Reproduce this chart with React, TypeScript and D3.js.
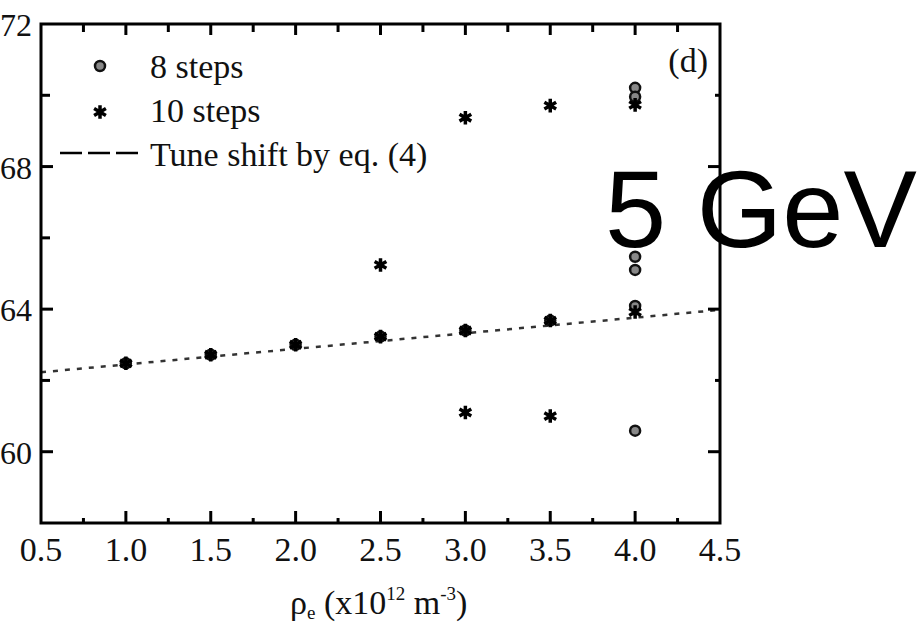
import { useEffect, useRef } from 'react';
import * as d3 from 'd3';

// 8 steps (open circles)
const steps8X = [1.0, 1.5, 2.0, 2.5, 3.0, 3.5, 4.0, 4.0, 4.0, 4.0, 4.0, 4.0];
const steps8Y = [0.6248, 0.6272, 0.630, 0.6323, 0.634, 0.6368, 0.6409, 0.6059, 0.6547, 0.651, 0.7021, 0.6996];

// 10 steps (asterisks)
const steps10X = [1.0, 1.5, 2.0, 2.5, 2.5, 3.0, 3.0, 3.0, 3.5, 3.5, 3.5, 4.0, 4.0];
const steps10Y = [0.6248, 0.6272, 0.630, 0.6323, 0.6524, 0.634, 0.611, 0.6937, 0.6368, 0.610, 0.6971, 0.6392, 0.6973];

// tune shift by eq. (4)
const fitX = [0.5, 4.5];
const fitY = [0.6223, 0.6398];

const xTicks = [0.5, 1.0, 1.5, 2.0, 2.5, 3.0, 3.5, 4.0, 4.5];
const yTicks = [0.60, 0.64, 0.68, 0.72];
// the left edge of the page cuts the "0." off these, only the digits show
const yTickLabels = ['60', '64', '68', '72'];
const legendLabels = ['8 steps', '10 steps', 'Tune shift by eq. (4)'];

function App() {
  const svgRef = useRef(null);

  useEffect(() => {
    const svg = d3.select(svgRef.current);
    svg.selectAll('*').remove();

    const left = 41, right = 720, top = 24, bottom = 523;
    const serif = '"Liberation Serif", "Times New Roman", serif';

    const x = d3.scaleLinear().domain([0.5, 4.5]).range([left, right]);
    const y = d3.scaleLinear().domain([0.58, 0.72]).range([bottom, top]);

    // fitted line
    const line = d3.line().x(d => x(d[0])).y(d => y(d[1]));
    svg.append('path')
      .datum(fitX.map((v, i) => [v, fitY[i]]))
      .attr('d', line)
      .attr('fill', 'none')
      .attr('stroke', '#333')
      .attr('stroke-width', 2.5)
      .attr('stroke-dasharray', '5,7');

    const star = d3.symbol(d3.symbolAsterisk, 130);

    // 8 steps circles
    svg.selectAll('.c8')
      .data(steps8X.map((v, i) => [v, steps8Y[i]]))
      .join('circle')
      .attr('cx', d => x(d[0]))
      .attr('cy', d => y(d[1]))
      .attr('r', 5)
      .attr('fill', '#888')
      .attr('stroke', '#111')
      .attr('stroke-width', 2.5);

    // 10 steps asterisks
    svg.selectAll('.s10')
      .data(steps10X.map((v, i) => [v, steps10Y[i]]))
      .join('path')
      .attr('d', star)
      .attr('transform', d => `translate(${x(d[0])},${y(d[1])})`)
      .attr('fill', 'none')
      .attr('stroke', '#000')
      .attr('stroke-width', 3.5);

    // frame
    svg.append('rect')
      .attr('x', left).attr('y', top)
      .attr('width', right - left).attr('height', bottom - top)
      .attr('fill', 'none')
      .attr('stroke', '#000')
      .attr('stroke-width', 3);

    // x ticks (major + minor), bottom and top
    const xMinor = d3.range(0.75, 4.5, 0.5);
    const tickG = svg.append('g').attr('stroke', '#000').attr('stroke-width', 3);
    xTicks.slice(1, -1).forEach(t => {
      tickG.append('line').attr('x1', x(t)).attr('x2', x(t)).attr('y1', bottom).attr('y2', bottom - 12);
      tickG.append('line').attr('x1', x(t)).attr('x2', x(t)).attr('y1', top).attr('y2', top + 11);
    });
    xMinor.forEach(t => {
      tickG.append('line').attr('x1', x(t)).attr('x2', x(t)).attr('y1', bottom).attr('y2', bottom - 5);
      tickG.append('line').attr('x1', x(t)).attr('x2', x(t)).attr('y1', top).attr('y2', top + 8);
    });
    // y ticks
    const yMinor = [0.62, 0.66, 0.70];
    yTicks.slice(0, -1).forEach(t => {
      tickG.append('line').attr('x1', left).attr('x2', left + 12).attr('y1', y(t)).attr('y2', y(t));
      tickG.append('line').attr('x1', right).attr('x2', right - 12).attr('y1', y(t)).attr('y2', y(t));
    });
    yMinor.forEach(t => {
      tickG.append('line').attr('x1', left).attr('x2', left + 9).attr('y1', y(t)).attr('y2', y(t));
      tickG.append('line').attr('x1', right).attr('x2', right - 5).attr('y1', y(t)).attr('y2', y(t));
    });

    // tick labels
    svg.selectAll('.xl')
      .data(xTicks)
      .join('text')
      .attr('x', d => x(d))
      .attr('y', 561)
      .attr('text-anchor', 'middle')
      .attr('font-family', serif)
      .attr('font-size', 34)
      .attr('fill', '#111')
      .text(d => d.toFixed(1));

    svg.selectAll('.yl')
      .data(yTicks)
      .join('text')
      .attr('x', 32)
      .attr('y', d => y(d) + 12)
      .attr('text-anchor', 'end')
      .attr('font-family', serif)
      .attr('font-size', 32)
      .attr('fill', '#111')
      .text((d, i) => yTickLabels[i]);

    // axis title
    const title = svg.append('text')
      .attr('x', 290)
      .attr('y', 614)
      .attr('font-family', serif)
      .attr('font-size', 34)
      .attr('fill', '#111');
    title.append('tspan').text('ρ');
    title.append('tspan').attr('font-size', 19).attr('dy', 5).text('e');
    title.append('tspan').attr('dy', -5).text(' (x10');
    title.append('tspan').attr('font-size', 19).attr('dy', -14).text('12');
    title.append('tspan').attr('dy', 14).text(' m');
    title.append('tspan').attr('font-size', 19).attr('dy', -14).text('-3');
    title.append('tspan').attr('dy', 14).text(')');

    // legend
    svg.append('circle')
      .attr('cx', 100).attr('cy', 66).attr('r', 5)
      .attr('fill', '#888').attr('stroke', '#111').attr('stroke-width', 2.5);
    svg.append('path')
      .attr('d', star)
      .attr('transform', 'translate(100,112)')
      .attr('fill', 'none').attr('stroke', '#000').attr('stroke-width', 3.5);
    svg.append('line')
      .attr('x1', 60).attr('x2', 140).attr('y1', 153).attr('y2', 153)
      .attr('stroke', '#000').attr('stroke-width', 2.5)
      .attr('stroke-dasharray', '22,6');
    svg.selectAll('.lg')
      .data(legendLabels)
      .join('text')
      .attr('x', 150)
      .attr('y', (d, i) => 78 + i * 44)
      .attr('font-family', serif)
      .attr('font-size', 34)
      .attr('fill', '#111')
      .text(d => d);

    // panel tag
    svg.append('text')
      .attr('x', 708).attr('y', 72)
      .attr('text-anchor', 'end')
      .attr('font-family', serif)
      .attr('font-size', 34)
      .attr('fill', '#111')
      .text('(d)');

    // energy label
    svg.append('text')
      .attr('x', 605).attr('y', 247)
      .attr('font-family', '"Liberation Sans", Arial, sans-serif')
      .attr('font-size', 110)
      .attr('fill', '#000')
      .text('5 GeV');
  }, []);

  return (
    <svg
      ref={svgRef}
      width={923}
      height={626}
      style={{ position: 'absolute', left: 0, top: 0, background: '#fff' }}
    />
  );
}

export default App;
